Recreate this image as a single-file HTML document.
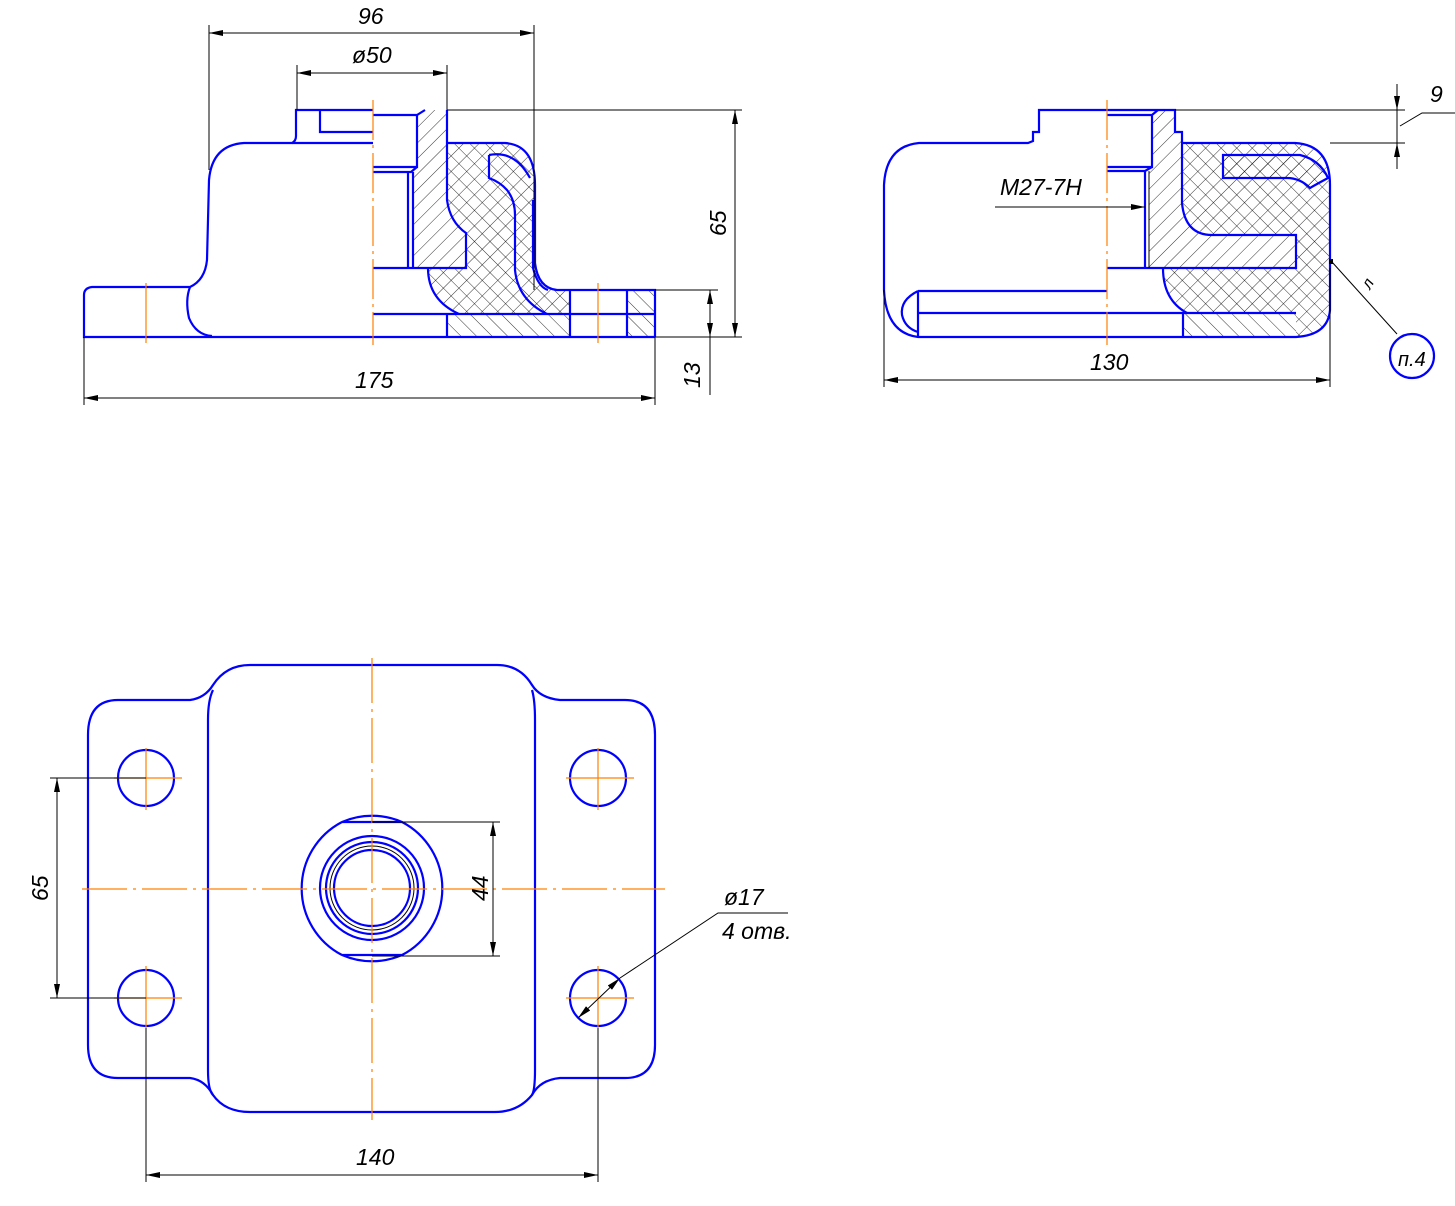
<!DOCTYPE html>
<html><head><meta charset="utf-8"><style>
html,body{margin:0;padding:0;background:#fff;}
svg{display:block;}
text{font-family:"Liberation Sans",sans-serif;font-style:italic;font-size:23px;fill:#000;}
</style></head><body>
<svg width="1455" height="1206" viewBox="0 0 1455 1206" xmlns="http://www.w3.org/2000/svg">
<defs>
<pattern id="hf" width="11" height="11" patternUnits="userSpaceOnUse" patternTransform="rotate(45)"><line x1="0" y1="0" x2="0" y2="11" stroke="#000" stroke-width="0.8"/></pattern>
<pattern id="hb" width="11" height="11" patternUnits="userSpaceOnUse" patternTransform="rotate(-45)"><line x1="0" y1="0" x2="0" y2="11" stroke="#000" stroke-width="0.8"/></pattern>
<pattern id="hx" width="11" height="11" patternUnits="userSpaceOnUse" patternTransform="rotate(45)"><line x1="0" y1="0" x2="0" y2="11" stroke="#000" stroke-width="0.8"/><line x1="0" y1="0" x2="11" y2="0" stroke="#000" stroke-width="0.8"/></pattern>
<marker id="ar" markerWidth="14" markerHeight="6" refX="14" refY="3" orient="auto-start-reverse" markerUnits="userSpaceOnUse"><path d="M0,0 L14,3 L0,6 Z" fill="#000"/></marker>
</defs>

<path d="M417,115 L425,110 L447,110 L447,200 Q450,222 466,233 L466,268 L413,268 L413,172 L417,167 Z" fill="url(#hf)"/>
<path d="M447,143 L505,143 Q535,145 535,185 L535,263 Q538,288 557,290 L570,290 L570,314 L459,314 Q428,300 428,268 L466,268 L466,233 Q450,222 447,200 Z" fill="url(#hx)"/>
<rect x="447" y="314" width="123" height="23" fill="url(#hb)"/>
<rect x="627" y="290" width="28" height="47" fill="url(#hb)"/>

<g fill="none" stroke="#0000ff" stroke-width="2.2">
<path d="M373,110 L296,110 L296,136 Q296,141 292,143 L244,143 Q212,145 209,180 L207,260 Q205,280 190,287 L92,287 Q84,288 84,295 L84,337 L373,337"/>
<path d="M190,287 Q185,300 189,318 Q196,335 212,336"/>
<path d="M320,110 L320,132 L373,132"/>
<path d="M292,143 L373,143"/>
<path d="M373,115 L417,115 L425,110 M417,115 L417,167 L373,167 M373,172 L411,172 L417,167 M408,172 L408,268 M413,172 L413,268"/>
<path d="M373,268 L466,268 L466,233 Q450,222 447,200 L447,110"/>
<path d="M447,143 L505,143 Q535,145 535,185 L535,263 Q538,288 557,290 L655,290 L655,337"/>
<path d="M533,200 L533,268 Q538,287 548,290"/>
<path d="M428,268 Q428,300 459,314"/>
<path d="M489,155 L489,178 Q500,182 507,190 Q515,200 515,215 L515,270 Q518,300 547,314"/>
<path d="M489,155 Q515,150 530,178"/>
<path d="M373,314 L655,314"/>
<path d="M373,337 L655,337"/>
<path d="M447,314 L447,337 M570,290 L570,337 M627,290 L627,337"/>
</g>
<g stroke="#ff8000" stroke-width="1.2">
<line x1="373" y1="100" x2="373" y2="345" stroke-dasharray="40,5,3,5"/>
<line x1="146" y1="283" x2="146" y2="343"/>
<line x1="598" y1="283" x2="598" y2="343"/>
</g>
<g stroke="#000" stroke-width="1" fill="none">
<line x1="447" y1="110" x2="742" y2="110"/>
<line x1="209" y1="25" x2="209" y2="170"/><line x1="534" y1="25" x2="534" y2="290"/>
<line x1="209" y1="33" x2="534" y2="33" marker-start="url(#ar)" marker-end="url(#ar)"/>
<line x1="297" y1="65" x2="297" y2="110"/><line x1="447" y1="65" x2="447" y2="110"/>
<line x1="297" y1="73" x2="447" y2="73" marker-start="url(#ar)" marker-end="url(#ar)"/>
<line x1="655" y1="337" x2="742" y2="337"/>
<line x1="735" y1="110" x2="735" y2="337" marker-start="url(#ar)" marker-end="url(#ar)"/>
<line x1="655" y1="290" x2="718" y2="290"/>
<line x1="710" y1="290" x2="710" y2="337" marker-start="url(#ar)" marker-end="url(#ar)"/>
<line x1="710" y1="337" x2="710" y2="395"/>
<line x1="84" y1="337" x2="84" y2="405"/><line x1="655" y1="337" x2="655" y2="405"/>
<line x1="84" y1="398" x2="655" y2="398" marker-start="url(#ar)" marker-end="url(#ar)"/>
</g>
<text x="358" y="24">96</text>
<text x="352" y="63">ø50</text>
<text x="355" y="388">175</text>
<text transform="translate(726,236) rotate(-90)">65</text>
<text transform="translate(700,388) rotate(-90)">13</text>

<path d="M1152,115 L1158,110 L1175,110 L1175,132 L1182,132 L1182,203 Q1185,235 1212,235 L1296,235 L1296,268 L1149,268 L1149,171 L1152,167 Z" fill="url(#hf)"/>
<path d="M1223,155 L1300,155 Q1320,160 1328,178 Q1315,185 1310,188 Q1300,178 1287,178 L1223,178 Z" fill="url(#hf)"/>
<path d="M1182,143 L1295,143 Q1330,145 1330,185 L1330,310 Q1328,335 1296,337 L1296,313 L1187,313 Q1163,300 1163,268 L1296,268 L1296,235 L1212,235 Q1182,230 1182,203 Z" fill="url(#hx)"/>
<rect x="1183" y="313" width="113" height="24" fill="url(#hb)"/>
<g fill="none" stroke="#0000ff" stroke-width="2.2">
<path d="M1107,110 L1175,110 L1175,132 L1182,132 L1182,203 Q1185,235 1212,235 L1296,235 L1296,268 L1107,268"/>
<path d="M1107,110 L1039,110 L1039,132 L1033,132 L1033,141 L1028,143 L919,143 Q886,146 884,185 L884,290 Q886,333 918,337 L1296,337 Q1328,335 1330,310 L1330,185 Q1330,145 1295,143 L1182,143"/>
<path d="M1107,115 L1152,115 L1158,110 M1152,115 L1152,167 L1107,167 M1107,171 L1145,171 L1152,167 M1145,171 L1145,268"/>
<path d="M1163,268 Q1163,300 1187,313"/>
<path d="M1223,155 L1300,155 Q1320,160 1328,178 Q1315,185 1310,188 Q1300,178 1287,178 L1223,178 Z"/>
<path d="M918,291 L1107,291 M918,313 L1296,313 M918,291 L918,337 M1183,313 L1183,337"/>
<path d="M918,291 Q900,300 902,315 Q905,328 918,332"/>
<circle cx="1412" cy="356" r="22"/>
</g>
<line x1="1149" y1="171" x2="1149" y2="268" stroke="#000" stroke-width="1"/>
<line x1="1107" y1="100" x2="1107" y2="345" stroke="#ff8000" stroke-width="1.2" stroke-dasharray="40,5,3,5"/>
<g stroke="#000" stroke-width="1" fill="none">
<line x1="1175" y1="110" x2="1405" y2="110"/><line x1="1330" y1="143" x2="1405" y2="143"/>
<line x1="1397" y1="84" x2="1397" y2="110" marker-end="url(#ar)"/>
<line x1="1397" y1="169" x2="1397" y2="143" marker-end="url(#ar)"/>
<line x1="1397" y1="110" x2="1397" y2="143"/>
<path d="M1400,126 L1422,113 L1455,113"/>
<line x1="884" y1="290" x2="884" y2="387"/><line x1="1330" y1="268" x2="1330" y2="387"/>
<line x1="884" y1="380" x2="1330" y2="380" marker-start="url(#ar)" marker-end="url(#ar)"/>
<line x1="995" y1="207" x2="1145" y2="207" marker-end="url(#ar)"/>
<path d="M1332,262 L1397,334"/>
</g>
<rect x="1329" y="259" width="4" height="5" fill="#000"/>
<text x="1430" y="102">9</text>
<text x="1090" y="370">130</text>
<text x="1000" y="195">M27-7H</text>
<text transform="translate(1370,290) rotate(-60)" style="font-size:16px">л</text>
<text x="1398" y="366" style="font-size:20px">п.4</text>

<g fill="none" stroke="#0000ff" stroke-width="2.2">
<path d="M118,700 L190,700 Q205,698 213,685 Q226,665 250,665 L497,665 Q520,665 532,685 Q540,698 560,700 L625,700 Q655,700 655,735 L655,1045 Q655,1078 625,1078 L560,1078 Q540,1080 532,1095 Q518,1112 495,1112 L250,1112 Q225,1112 213,1095 Q205,1080 190,1078 L118,1078 Q88,1078 88,1045 L88,735 Q88,700 118,700 Z"/>
<path d="M213,690 Q208,700 208,720 L208,1070 Q208,1090 213,1095 M532,690 Q535,700 535,720 L535,1070 Q535,1090 532,1095"/>
<circle cx="146" cy="778" r="28"/><circle cx="598" cy="778" r="28"/>
<circle cx="146" cy="998" r="28"/><circle cx="598" cy="998" r="28"/>
<path d="M342,822 A75,75 0 0 1 402,822 L342,822 M402,822 A75,75 0 0 1 402,955 M342,955 A75,75 0 0 1 342,822 M342,955 A75,75 0 0 0 402,955 L342,955"/>
<circle cx="372" cy="888" r="52"/>
<circle cx="372" cy="888" r="46"/>
<circle cx="372" cy="888" r="38"/>
</g>
<circle cx="372" cy="888" r="42" fill="none" stroke="#000" stroke-width="1"/>
<g stroke="#ff8000" stroke-width="1.2">
<line x1="372" y1="658" x2="372" y2="1120" stroke-dasharray="45,6,3,6"/>
<line x1="82" y1="889" x2="665" y2="889" stroke-dasharray="45,6,3,6"/>
<line x1="114" y1="778" x2="182" y2="778"/><line x1="146" y1="748" x2="146" y2="810"/>
<line x1="566" y1="778" x2="634" y2="778"/><line x1="598" y1="748" x2="598" y2="810"/>
<line x1="114" y1="998" x2="182" y2="998"/><line x1="146" y1="966" x2="146" y2="1028"/>
<line x1="566" y1="998" x2="634" y2="998"/><line x1="598" y1="966" x2="598" y2="1028"/>
</g>
<g stroke="#000" stroke-width="1" fill="none">
<line x1="50" y1="778" x2="146" y2="778"/><line x1="50" y1="998" x2="146" y2="998"/>
<line x1="57" y1="778" x2="57" y2="998" marker-start="url(#ar)" marker-end="url(#ar)"/>
<line x1="372" y1="822" x2="500" y2="822"/><line x1="372" y1="956" x2="500" y2="956"/>
<line x1="493" y1="822" x2="493" y2="956" marker-start="url(#ar)" marker-end="url(#ar)"/>
<line x1="146" y1="1028" x2="146" y2="1182"/><line x1="598" y1="1028" x2="598" y2="1182"/>
<line x1="146" y1="1175" x2="598" y2="1175" marker-start="url(#ar)" marker-end="url(#ar)"/>
<line x1="578" y1="1018" x2="620" y2="978" marker-start="url(#ar)" marker-end="url(#ar)"/>
<path d="M620,978 L718,913 L788,913"/>
</g>
<text transform="translate(48,901) rotate(-90)">65</text>
<text transform="translate(488,901) rotate(-90)">44</text>
<text x="356" y="1165">140</text>
<text x="724" y="905">ø17</text>
<text x="722" y="939">4 отв.</text>
</svg>
</body></html>
